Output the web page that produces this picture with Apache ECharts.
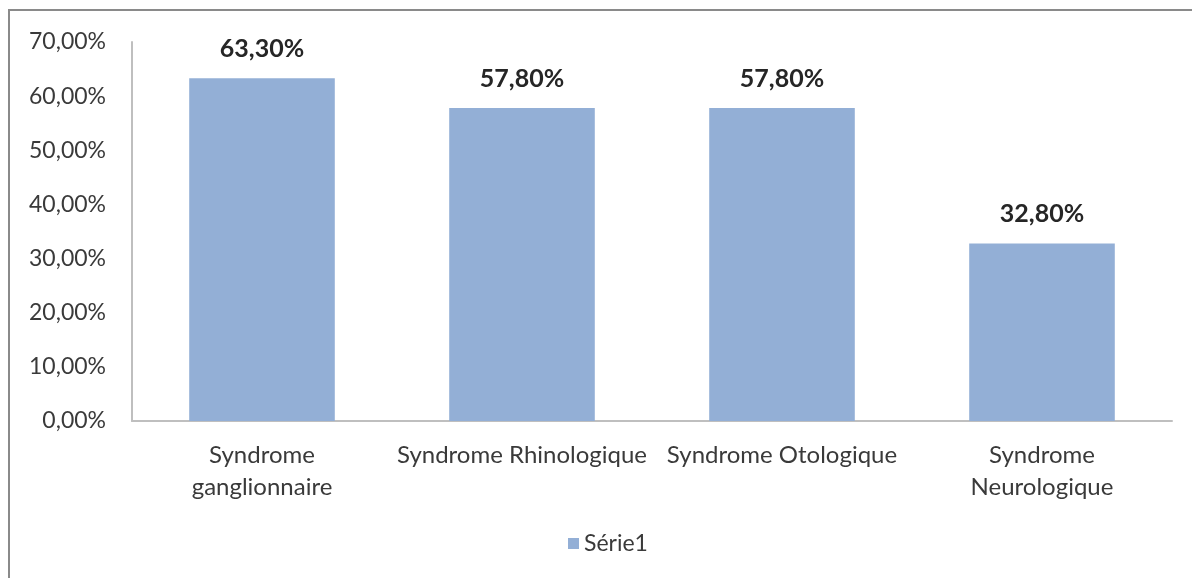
<!DOCTYPE html>
<html>
<head>
<meta charset="utf-8">
<script src="https://cdn.jsdelivr.net/npm/echarts@6/dist/echarts.min.js"></script>
<style>
  html, body { margin: 0; padding: 0; background: #ffffff; }
  #frame {
    position: absolute; left: 8px; top: 9px; width: 1184px; height: 569px;
    border-top: 2px solid #8a8a8a; border-left: 2px solid #8a8a8a;
    box-sizing: border-box;
  }
  #chart { position: absolute; left: 0; top: 0; width: 1192px; height: 578px; }
</style>
</head>
<body>
<div id="frame"></div>
<div id="chart"></div>
<script>
// Syndromes and their share of patients (%)
const categories = [
  'Syndrome\nganglionnaire',
  'Syndrome Rhinologique',
  'Syndrome Otologique',
  'Syndrome\nNeurologique'
];
const values = [63.3, 57.8, 57.8, 32.8];
const seriesName = 'Série1';
const yTicks = [0, 10, 20, 30, 40, 50, 60, 70];

const fmt = (v) => v.toFixed(2).replace('.', ',') + '%';
const font = 'Lato, "Open Sans", sans-serif';

const chart = echarts.init(document.getElementById('chart'), null, { renderer: 'canvas' });
chart.setOption({
  animation: false,
  backgroundColor: 'transparent',
  textStyle: { fontFamily: font },
  grid: { left: 132, right: 20, top: 42, bottom: 157, containLabel: false },
  legend: {
    data: [seriesName],
    bottom: 18,
    left: 563,
    itemWidth: 11,
    itemHeight: 11,
    itemGap: 7,
    icon: 'rect',
    textStyle: { fontFamily: font, fontSize: 23, color: '#3a3a3a' }
  },
  xAxis: {
    type: 'category',
    data: categories,
    axisLine: { lineStyle: { color: '#bfbfbf', width: 2 } },
    axisTick: { show: false },
    axisLabel: {
      fontFamily: font, fontSize: 24, color: '#3a3a3a',
      margin: 18, lineHeight: 32, interval: 0
    }
  },
  yAxis: {
    type: 'value',
    min: yTicks[0],
    max: yTicks[yTicks.length - 1],
    interval: 10,
    axisLine: { show: true, lineStyle: { color: '#bfbfbf', width: 2 } },
    axisTick: { show: false },
    splitLine: { show: false },
    axisLabel: {
      fontFamily: font, fontSize: 23, color: '#3a3a3a', margin: 26,
      formatter: (v) => fmt(v)
    }
  },
  series: [{
    name: seriesName,
    type: 'bar',
    data: values,
    barCategoryGap: '44%',
    itemStyle: { color: '#93afd6' },
    label: {
      show: true,
      position: 'top',
      distance: 17,
      fontFamily: font,
      fontSize: 25,
      fontWeight: 'bold',
      color: '#262626',
      formatter: (p) => fmt(p.value)
    }
  }]
});
</script>
</body>
</html>
